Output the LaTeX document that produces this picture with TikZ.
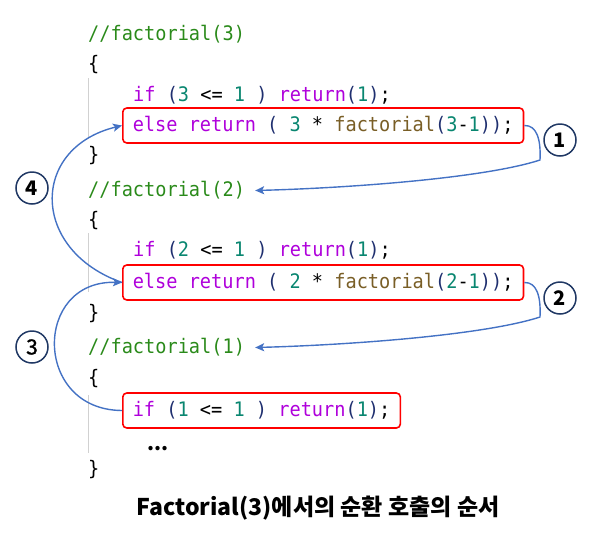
\documentclass[tikz,border=0pt]{standalone}
\usepackage{fontspec}
\usetikzlibrary{arrows.meta}
\newfontfamily\codefont[FakeStretch=0.93]{DejaVu Sans Mono}
\newfontfamily\krfont{Noto Sans CJK KR}
\newfontfamily\krmedium[FakeBold=1.2]{Noto Sans CJK KR}
\definecolor{keyword}{HTML}{AF00DB}
\definecolor{number}{HTML}{098670}
\definecolor{funcname}{HTML}{795E26}
\definecolor{paren}{HTML}{1F2F6F}
\definecolor{comment}{HTML}{2A8A1A}
\definecolor{callblue}{HTML}{4472C4}
\definecolor{navy}{HTML}{203864}
\newcommand\cKw[1]{\textcolor{keyword}{#1}}
\newcommand\cNum[1]{\textcolor{number}{#1}}
\newcommand\cFn[1]{\textcolor{funcname}{#1}}
\newcommand\cPar[1]{\textcolor{paren}{#1}}
\tikzset{
	code/.style={anchor=base west,inner xsep=10pt,inner ysep=8pt,text height=15pt,text depth=4pt,font=\codefont\fontsize{20}{24}\selectfont\frenchspacing},
	codebox/.style={code,draw=red,line width=1.6pt,rounded corners=4pt},
	guide/.style={draw=black!18,line width=0.8pt},
	callarrow/.style={draw=callblue,line width=1.4pt,-{Stealth[length=9pt,width=8pt,inset=2pt]}},
	order/.style={circle,draw=navy,line width=1.5pt,minimum size=32pt,inner sep=0pt,font=\krfont\bfseries\fontsize{20}{24}\selectfont}
}
\begin{document}
\begin{tikzpicture}[x=1pt,y=-1pt]
	\useasboundingbox (0,0) rectangle (616,555);
	\draw[guide] (88,78) -- (88,137);
	\draw[guide] (88,233) -- (88,292);
	\draw[guide] (88,395) -- (88,453);

	\node[code] (cmt3) at (78,40) {\textcolor{comment}{//factorial(3)}};
	\node[code] (open3) at (78,70) {\{};
	\node[code] (if3) at (123,101) {\cKw{if} \cPar{(}\cNum{3} <= \cNum{1} \cPar{)} \cKw{return}\cPar{(}\cNum{1}\cPar{)};};
	\node[codebox] (else3) at (122,131) {\cKw{else return} \cPar{(} \cNum{3} * \cFn{factorial}\cPar{(}\cNum{3}-\cNum{1}\cPar{))};};
	\node[code] (close3) at (78,161) {\}};

	\node[code] (cmt2) at (78,196) {\textcolor{comment}{//factorial(2)}};
	\node[code] (open2) at (78,226) {\{};
	\node[code] (if2) at (123,256) {\cKw{if} \cPar{(}\cNum{2} <= \cNum{1} \cPar{)} \cKw{return}\cPar{(}\cNum{1}\cPar{)};};
	\node[codebox] (else2) at (122,288) {\cKw{else return} \cPar{(} \cNum{2} * \cFn{factorial}\cPar{(}\cNum{2}-\cNum{1}\cPar{))};};
	\node[code] (close2) at (78,319) {\}};

	\node[code] (cmt1) at (78,353) {\textcolor{comment}{//factorial(1)}};
	\node[code] (open1) at (78,384) {\{};
	\node[codebox] (if1) at (122,416) {\cKw{if} \cPar{(}\cNum{1} <= \cNum{1} \cPar{)} \cKw{return}\cPar{(}\cNum{1}\cPar{)};};
	\node[anchor=base west,inner sep=0pt,font=\krfont\bfseries\fontsize{20}{24}\selectfont] (dots) at (147,450) {...};
	\node[code] (close1) at (78,475) {\}};

	\node[order] (n1) at (560,140) {1};
	\node[order] (n2) at (560,298) {2};
	\node[order,font=\krmedium\fontsize{21}{24}\selectfont] (n3) at (32,347) {3};
	\node[order] (n4) at (32,188) {4};

	\coordinate (turn1) at (540,160);
	\coordinate (turn2) at (540,317);
	\draw[callarrow] (else3.east) .. controls (537,125) and (541,140) .. (turn1) .. controls (485,178) and (350,188) .. (cmt2.east);
	\draw[callarrow] (else2.east) .. controls (537,282) and (541,297) .. (turn2) .. controls (485,335) and (350,345) .. (cmt1.east);
	\draw[callarrow] (if1.west) .. controls (33,410) and (33,280) .. (else2.west);
	\draw[callarrow] (else2.west) .. controls (30,250) and (30,148) .. (else3.west);

	\node[font=\krfont\bfseries\fontsize{23}{28}\selectfont] (caption) at (318,508) {Factorial(3)에서의 순환 호출의 순서};
\end{tikzpicture}
\end{document}
